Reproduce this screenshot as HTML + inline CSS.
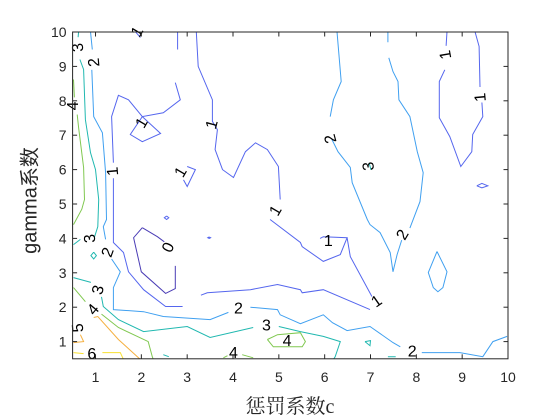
<!DOCTYPE html>
<html><head><meta charset="utf-8"><style>
html,body{margin:0;padding:0;background:#fff}
svg{display:block}
</style></head><body>
<svg id="chart" width="560" height="420" viewBox="0 0 560 420" xmlns="http://www.w3.org/2000/svg"></svg>
<script>
// ---- data ----
const xTicks = [1,2,3,4,5,6,7,8,9,10];
const yTicks = [1,2,3,4,5,6,7,8,9,10];
const levels = [0,1,2,3,4,5,6];
const levelColors = ["#4a3cb5","#5566ee","#40a0f0","#20b8b0","#80c850","#f5b040","#f8e030"];
// contour polylines: [level, [[c,gamma],...]]
const contours = [
 [1,[[3.2,10.01],[3.24,9.0],[3.55,8.03],[3.55,7.4],[3.66,7.16],[3.61,6.58],[3.77,6.0],[4.01,5.77],[4.27,6.52],[4.49,6.78],[4.75,6.58],[4.99,6.09],[5.03,5.13]]],
 [1,[[4.81,4.55],[5.47,3.88],[5.51,3.76],[5.97,3.33],[6.34,3.53],[6.49,4.02],[5.97,4.05],[5.9,4.0]]],
 [1,[[6.49,4.02],[6.56,3.47],[7.03,2.31]]],
 [1,[[2.79,10.01],[2.79,9.49]]],
 [1,[[2.74,8.53],[2.85,8.03],[2.48,7.65],[2.02,7.54],[1.72,8.03],[1.5,8.16],[1.35,7.54],[1.39,6.2]]],
 [1,[[1.39,5.75],[1.39,3.88],[1.61,3.59],[1.72,3.03],[2.05,2.51],[2.53,2.02],[2.9,2.02]]],
 [1,[[3.3,2.35],[3.44,2.42],[4.38,2.51],[4.97,2.66],[5.47,2.51],[5.51,2.42],[5.97,2.51],[6.99,1.93]]],
 [1,[[1.87,10.01],[1.98,9.84]]],
 [1,[[2.02,7.54],[1.76,7.02],[2.02,6.81],[2.42,7.05],[2.02,7.54]]],
 [1,[[3.0,6.09],[3.18,6.0],[3.0,5.51],[2.92,5.7]]],
 [1,[[8.67,10.01],[8.65,9.6]]],
 [1,[[8.62,8.9],[8.5,8.56],[8.5,7.51],[8.73,6.96],[8.97,6.09],[9.21,6.52],[9.23,7.02],[9.45,7.54],[9.43,7.95]]],
 [1,[[9.39,8.4],[9.37,9.58],[9.28,10.01]]],
 [1,[[9.32,5.53],[9.43,5.6],[9.56,5.53],[9.43,5.47],[9.32,5.53]]],
 [1,[[2.55,4.65],[2.6,4.6],[2.55,4.55],[2.5,4.6],[2.55,4.65]]],
 [1,[[3.48,4.04],[3.51,4.02],[3.48,4.0],[3.45,4.02],[3.48,4.04]]],
 [0,[[2.02,4.31],[1.83,4.02],[2.0,3.03],[2.53,2.4],[2.74,2.54],[2.74,3.2]]],
 [0,[[2.5,3.9],[2.35,4.05],[2.02,4.31]]],
 [2,[[0.89,10.01],[0.93,9.49]]],
 [2,[[0.92,8.9],[0.96,7.54],[1.15,7.07],[1.22,5.91],[1.24,4.55],[1.17,4.34],[1.22,3.97]]],
 [2,[[1.35,3.4],[1.54,3.03],[1.39,2.57],[1.39,1.93],[2.05,1.87],[2.48,1.73],[3.5,1.64],[3.9,1.85]]],
 [2,[[4.38,2.0],[4.97,1.93],[5.03,1.78],[5.47,1.52],[5.97,1.78],[6.17,1.55],[6.49,1.32],[6.99,1.44],[7.49,0.97],[7.65,0.85]]],
 [2,[[8.12,0.68],[8.95,0.68],[9.45,0.56],[9.67,1.0],[9.98,1.15]]],
 [2,[[6.27,10.01],[6.36,8.56],[6.19,8.03],[6.12,7.54]]],
 [2,[[6.15,6.9],[6.29,6.52],[6.56,6.06],[6.6,5.62],[6.93,4.55],[6.99,4.4],[7.21,4.17],[7.43,3.59],[7.49,3.03],[7.58,3.53],[7.68,3.95]]],
 [2,[[7.86,4.3],[8.08,5.07],[8.15,5.91],[8.02,6.52],[7.86,7.54],[7.62,8.03],[7.6,8.56],[7.49,8.85],[7.4,9.25]]],
 [2,[[7.38,9.7],[7.38,10.01]]],
 [2,[[8.45,3.62],[8.67,3.03],[8.58,2.57],[8.47,2.45],[8.37,2.57],[8.26,3.01],[8.45,3.62]]],
 [3,[[0.63,10.01],[0.62,9.85]]],
 [3,[[0.66,9.2],[0.74,8.91],[0.78,7.45],[0.89,6.49],[1.0,6.0],[1.07,5.13],[1.05,4.34],[0.98,4.05]]],
 [3,[[0.67,3.97],[0.52,3.82]]],
 [3,[[0.52,2.86],[0.9,2.72]]],
 [3,[[1.13,2.3],[1.17,2.02],[1.5,1.64],[2.05,1.29],[3.0,1.44],[3.5,1.12],[4.44,1.41]]],
 [3,[[5.0,1.44],[5.47,1.29],[5.97,1.15],[6.34,1.0],[6.23,0.56],[6.19,0.48]]],
 [3,[[0.96,3.6],[1.02,3.5],[0.96,3.4],[0.9,3.5],[0.96,3.6]]],
 [3,[[6.88,1.0],[7.0,1.03],[6.99,0.88],[6.88,1.0]]],
 [3,[[6.97,6.2],[7.01,5.99]]],
 [3,[[2.48,0.62],[2.6,0.56]]],
 [3,[[7.38,0.56],[7.55,0.56]]],
 [4,[[0.52,8.62],[0.54,8.1]]],
 [4,[[0.6,7.6],[0.63,7.22],[0.74,6.06],[0.76,5.13],[0.7,4.85],[0.52,4.4]]],
 [4,[[0.52,2.57],[0.78,2.16]]],
 [4,[[1.13,1.8],[1.5,1.41],[2.15,1.0],[2.24,0.56],[2.26,0.48]]],
 [4,[[4.75,1.06],[4.97,1.2],[5.47,1.26],[5.58,1.0],[5.51,0.85],[4.88,0.85],[4.75,1.06]]],
 [4,[[3.79,0.53],[3.88,0.59]]],
 [4,[[4.2,0.62],[4.44,0.53]]],
 [5,[[0.52,0.97],[0.74,1.0],[0.67,1.2]]],
 [5,[[0.96,1.7],[1.05,1.73],[1.5,1.06],[1.98,0.48]]],
 [6,[[0.52,0.68],[0.74,0.65]]],
 [6,[[1.15,0.68],[1.54,0.68],[1.61,0.48]]]
];
// contour labels
const labelText = ["1","1","1","1","1","1","1","1","1","1","0","2","2","2","2","2","2","3","3","3","3","3","4","4","4","4","5","6"];
const labelC = [1.39,2.02,1.92,2.87,3.55,4.94,7.14,8.65,9.41,6.08,2.6,0.98,1.28,4.12,7.91,6.14,7.71,0.63,0.89,1.07,4.73,6.97,0.52,0.96,5.18,4.01,0.63,0.92];
const labelG = [5.95,7.35,10.0,5.92,7.31,4.8,2.16,9.34,8.1,3.91,3.73,9.12,3.59,1.95,0.7,6.9,4.1,9.55,4.0,2.5,1.45,6.1,7.85,1.92,1.0,0.65,1.4,0.62];
const labelRot = [-95,-60,-60,-60,-75,-60,-35,-100,-95,0,-65,-95,-70,0,0,-105,-60,-95,-95,-75,0,-95,-90,-50,0,0,-95,0];

// ---- axes ----
const L=72.6,R=508,T=32,B=358.8;
const X=c=>L+(c-0.5)/9.5*(R-L);
const Y=g=>B-(g-0.5)/9.5*(B-T);
const NS="http://www.w3.org/2000/svg";
const svg=document.getElementById('chart');
function mk(tag,attrs,parent){const e=document.createElementNS(NS,tag);for(const k in attrs)e.setAttribute(k,attrs[k]);(parent||svg).appendChild(e);return e;}

const defs=mk('defs',{});
const cp=mk('clipPath',{id:'plotclip'},defs);
mk('rect',{x:L,y:T,width:R-L,height:B-T},cp);

const bg=mk('rect',{x:L,y:T,width:R-L,height:B-T,fill:'#fff'});



const g=mk('g',{'clip-path':'url(#plotclip)'});


contours.forEach((cn,i)=>{
  const lv=cn[0];
  const pts=cn[1].map(p=>X(p[0]).toFixed(1)+','+Y(p[1]).toFixed(1)).join(' ');
  const pl=mk('polyline',{points:pts,fill:'none',stroke:levelColors[levels.indexOf(lv)],'stroke-width':1},g);
  
  
});
const lg=mk('g',{});


labelText.forEach((t,i)=>{
  const x=X(labelC[i]),y=Y(labelG[i]);
  const tx=mk('text',{x:x,y:y,'font-family':'Liberation Sans, sans-serif','font-size':16,'text-anchor':'middle','dominant-baseline':'central',fill:'#000',transform:`rotate(${labelRot[i]} ${x} ${y})`},lg);
  tx.textContent=t;
  
  
});

// frame
const fr=mk('rect',{x:L,y:T,width:R-L,height:B-T,fill:'none',stroke:'#262626','stroke-width':1});



const xa=mk('g',{});


xTicks.forEach(v=>{
  const x=X(v);
  mk('line',{x1:x,x2:x,y1:B,y2:B-4.5,stroke:'#262626'},xa);
  mk('line',{x1:x,x2:x,y1:T,y2:T+4.5,stroke:'#262626'},xa);
  const t=mk('text',{x:x,y:B+23,'font-family':'Liberation Sans, sans-serif','font-size':14,'text-anchor':'middle',fill:'#262626'},xa);
  t.textContent=v;
  
  
});
const ya=mk('g',{});


yTicks.forEach(v=>{
  const y=Y(v);
  mk('line',{x1:L,x2:L+4.5,y1:y,y2:y,stroke:'#262626'},ya);
  mk('line',{x1:R,x2:R-4.5,y1:y,y2:y,stroke:'#262626'},ya);
  const t=mk('text',{x:L-6,y:y+5,'font-family':'Liberation Sans, sans-serif','font-size':14,'text-anchor':'end',fill:'#262626'},ya);
  t.textContent=v;
  
  
});
</script>
<div style="position:absolute;left:190px;top:390px;width:200px;text-align:center;font-family:'Liberation Serif','Noto Serif CJK SC',serif;font-size:20px;color:#262626;">惩罚系数c</div>
<div style="position:absolute;left:-62px;top:186px;width:180px;text-align:center;font-family:'Liberation Sans','Noto Sans CJK SC',sans-serif;font-size:20px;color:#262626;transform:rotate(-90deg);">gamma系数</div>
</body></html>
